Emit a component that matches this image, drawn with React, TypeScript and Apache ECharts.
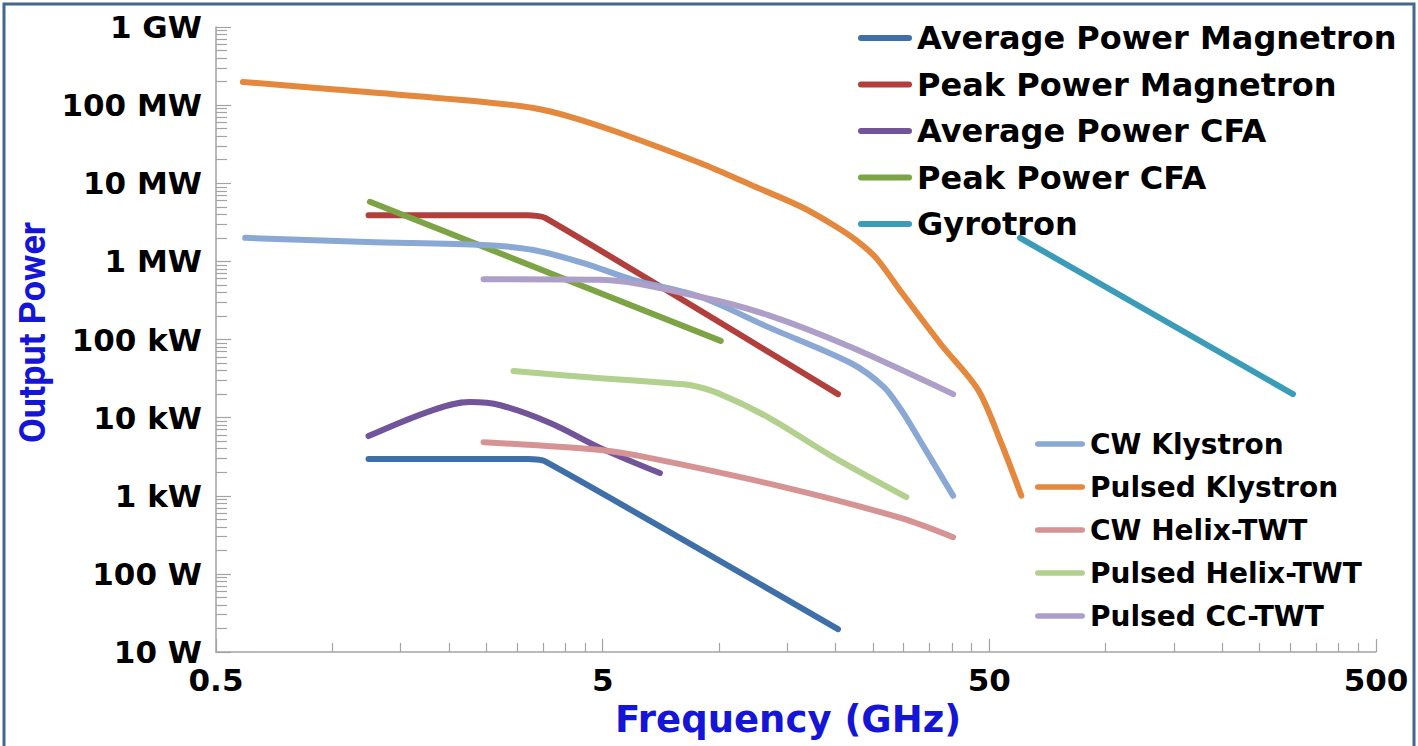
import React, { useEffect, useRef } from "react";
import * as echarts from "echarts";

// ---- Series (frequency in GHz, output power in W) ----
const avgPowerMagnetron: [number, number][] = [[1.24, 2950], [3.2, 2950], [3.55, 2750], [20.3, 19.6]];
const peakPowerMagnetron: [number, number][] = [[1.24, 3.9e6], [3.2, 3.9e6], [3.55, 3.6e6], [20.3, 2.0e4]];
const avgPowerCFA: [number, number][] = [[1.24, 5.8e3], [1.82, 1.25e4], [2.27, 1.58e4], [2.72, 1.44e4], [3.67, 8.5e3], [4.94, 4.07e3], [7.03, 1.95e3]];
const peakPowerCFA: [number, number][] = [[1.25, 5.8e6], [10.1, 9.6e4]];
const gyrotron: [number, number][] = [[60, 2.0e6], [305, 2.0e4]];
const cwKlystron: [number, number][] = [[0.595, 2.0e6], [1.23, 1.77e6], [2.46, 1.62e6], [3.31, 1.4e6], [4.46, 9.5e5], [6.0, 5.8e5], [8.97, 3.5e5], [13.4, 1.44e5], [21.9, 5.0e4], [26.7, 2.46e4], [29.6, 1.25e4], [32.7, 5.6e3], [40.3, 1.0e3]];
const pulsedKlystron: [number, number][] = [[0.587, 1.98e8], [1.23, 1.47e8], [2.46, 1.1e8], [3.31, 9.2e7], [4.06, 7.25e7], [5.47, 4.5e7], [8.97, 1.8e7], [12.1, 9.5e6], [16.3, 5.0e6], [19.8, 2.9e6], [22.6, 1.87e6], [25.5, 1.1e6], [29.6, 4.05e5], [37.6, 8.5e4], [46.8, 2.25e4], [53.7, 4.7e3], [60.5, 1.0e3]];
const cwHelixTWT: [number, number][] = [[2.46, 4.85e3], [4.94, 3.84e3], [6.65, 3.03e3], [14.7, 1.29e3], [29.6, 5.17e2], [40.3, 2.95e2]];
const pulsedHelixTWT: [number, number][] = [[2.94, 3.94e4], [4.94, 3.2e4], [7.36, 2.77e4], [8.45, 2.6e4], [9.93, 2.06e4], [13.4, 1.01e4], [19.8, 3.1e3], [30.5, 9.6e2]];
const pulsedCCTWT: [number, number][] = [[2.46, 5.9e5], [4.94, 5.8e5], [8.97, 3.5e5], [13.4, 2.05e5], [21.9, 8.0e4], [40.3, 2.0e4]];

const seriesNames = [
  "Average Power Magnetron",
  "Peak Power Magnetron",
  "Average Power CFA",
  "Peak Power CFA",
  "Gyrotron",
  "CW Klystron",
  "Pulsed Klystron",
  "CW Helix-TWT",
  "Pulsed Helix-TWT",
  "Pulsed CC-TWT",
];
const seriesData = [
  avgPowerMagnetron,
  peakPowerMagnetron,
  avgPowerCFA,
  peakPowerCFA,
  gyrotron,
  cwKlystron,
  pulsedKlystron,
  cwHelixTWT,
  pulsedHelixTWT,
  pulsedCCTWT,
];
const seriesColors = [
  "#3f6fa8",
  "#b13f3c",
  "#71549a",
  "#7da444",
  "#3a9cb8",
  "#8aa8d4",
  "#e3883c",
  "#d69393",
  "#b2d08e",
  "#ae9fc8",
];
// smoothing per series (0 = straight segments)
const seriesSmooth = [0.2, 0.2, 0.35, 0, 0, 0.3, 0.3, 0.3, 0.3, 0.3];

// ---- Axes ----
const xMajorTicks = [0.5, 5, 50, 500];
const xMajorLabels = ["0.5", "5", "50", "500"];
const xMinorTicks = [1, 1.5, 2, 2.5, 3, 3.5, 4, 4.5, 10, 15, 20, 25, 30, 35, 40, 45, 100, 150, 200, 250, 300, 350, 400, 450];
const yTickValues = [10, 100, 1e3, 1e4, 1e5, 1e6, 1e7, 1e8, 1e9];
const yTickLabels = ["10 W", "100 W", "1 kW", "10 kW", "100 kW", "1 MW", "10 MW", "100 MW", "1 GW"];
const yMinorMultipliers = [2, 3, 4, 5, 6, 7, 8, 9];
const yMinorTicks = yTickValues.slice(0, -1).flatMap((d) => yMinorMultipliers.map((m) => m * d));

const findLabel = (values: number[], labels: string[], v: number) => {
  const i = values.findIndex((t) => Math.abs(Math.log10(t) - Math.log10(v)) < 1e-6);
  return i >= 0 ? labels[i] : "";
};

const pill = "path://M3,0L51,0A3,3,0,0,1,51,6L3,6A3,3,0,0,1,3,0Z";
const axisGray = "#a3a3a3";
const labelFont = { fontFamily: "DejaVu Sans", fontWeight: "bold" as const, color: "#000" };

export default function App() {
  const ref = useRef<HTMLDivElement>(null);

  useEffect(() => {
    if (!ref.current) return;
    const chart = echarts.init(ref.current, null, { renderer: "svg" });

    const option: any = {
      animation: false,
      backgroundColor: "#ffffff",
      grid: { left: 216, right: 42, top: 27, bottom: 94, containLabel: false },
      xAxis: [
        {
          type: "log",
          logBase: 10,
          min: 0.5,
          max: 500,
          name: "Frequency (GHz)",
          nameLocation: "middle",
          nameGap: 49,
          nameTextStyle: { color: "#1515d8", fontFamily: "DejaVu Sans", fontWeight: "bold", fontSize: 37, padding: [0, 16, 0, 0] },
          axisLine: { show: true, lineStyle: { color: axisGray, width: 1.5 } },
          axisTick: { show: true, inside: true, length: 13, customValues: xMajorTicks, lineStyle: { color: axisGray, width: 1.2 } },
          axisLabel: {
            show: true,
            customValues: xMajorTicks,
            margin: 12,
            fontSize: 31,
            ...labelFont,
            formatter: (v: number) => findLabel(xMajorTicks, xMajorLabels, v),
          },
          splitLine: { show: false },
          minorTick: { show: false },
        },
        {
          type: "log",
          logBase: 10,
          min: 0.5,
          max: 500,
          position: "bottom",
          axisLine: { show: false },
          axisTick: { show: true, inside: true, length: 9, customValues: xMinorTicks, lineStyle: { color: axisGray, width: 1.2 } },
          axisLabel: { show: false },
          splitLine: { show: false },
        },
      ],
      yAxis: [
        {
          type: "log",
          logBase: 10,
          min: 10,
          max: 1e9,
          name: "Output Power",
          nameLocation: "middle",
          nameGap: 161,
          nameRotate: 90,
          nameTextStyle: { color: "#1515d8", fontFamily: "Roboto", fontWeight: "bold", fontSize: 36, padding: [0, 0, 0, 14] },
          axisLine: { show: true, lineStyle: { color: axisGray, width: 1.5 } },
          axisTick: { show: true, inside: true, length: 15, customValues: yTickValues, lineStyle: { color: axisGray, width: 1.2 } },
          axisLabel: {
            show: true,
            customValues: yTickValues,
            margin: 14,
            fontSize: 31,
            ...labelFont,
            formatter: (v: number) => findLabel(yTickValues, yTickLabels, v),
          },
          splitLine: { show: false },
        },
        {
          type: "log",
          logBase: 10,
          min: 10,
          max: 1e9,
          position: "left",
          axisLine: { show: false },
          axisTick: { show: true, inside: true, length: 11, customValues: yMinorTicks, lineStyle: { color: axisGray, width: 1.2 } },
          axisLabel: { show: false },
          splitLine: { show: false },
        },
      ],
      legend: [
        {
          data: seriesNames.slice(0, 5),
          orient: "vertical",
          left: 858,
          top: 22,
          padding: 0,
          itemWidth: 54,
          itemHeight: 6,
          itemGap: 14.5,
          icon: pill,
          selectedMode: false,
          textStyle: { fontFamily: "DejaVu Sans", fontWeight: "bold", fontSize: 32, color: "#000", lineHeight: 32 },
        },
        {
          data: seriesNames.slice(5),
          orient: "vertical",
          left: 1035,
          top: 430,
          padding: 0,
          itemWidth: 50,
          itemHeight: 6,
          itemGap: 15,
          icon: pill,
          selectedMode: false,
          textStyle: { fontFamily: "DejaVu Sans", fontWeight: "bold", fontSize: 28, color: "#000", lineHeight: 28 },
        },
      ],
      series: seriesNames.map((name, i) => ({
        name,
        type: "line",
        xAxisIndex: 0,
        yAxisIndex: 0,
        data: seriesData[i],
        symbol: "none",
        showSymbol: false,
        smooth: seriesSmooth[i] > 0 ? seriesSmooth[i] : false,
        color: seriesColors[i],
        itemStyle: { color: seriesColors[i] },
        lineStyle: { color: seriesColors[i], width: 6, cap: "round", join: "round" },
        z: 2 + i,
      })),
      graphic: [
        {
          type: "rect",
          shape: { x: 4, y: 4, width: 1410, height: 760 },
          style: { fill: "none", stroke: "#44678c", lineWidth: 3 },
          silent: true,
          z: 100,
        },
      ],
    };

    chart.setOption(option);
    return () => chart.dispose();
  }, []);

  return (
    <div
      ref={ref}
      style={{ position: "fixed", left: 0, top: 0, width: 1418, height: 746, background: "#fff" }}
    />
  );
}
